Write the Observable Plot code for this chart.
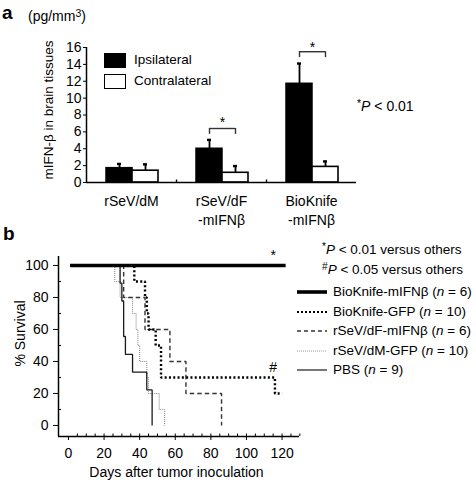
<!DOCTYPE html>
<html><head><meta charset="utf-8">
<script src="https://cdn.jsdelivr.net/npm/d3@7"></script>
<script src="https://cdn.jsdelivr.net/npm/@observablehq/plot@0.6"></script>
<style>
html,body{margin:0;padding:0;background:#fff;}
#wrap{position:relative;width:476px;height:482px;overflow:hidden;font-family:"Liberation Sans",Arial,Helvetica,sans-serif;color:#000;}
.abs{position:absolute;white-space:nowrap;line-height:1;}
#wrap svg.plot{position:absolute;left:0;}
sup{font-size:0.75em;vertical-align:0.42em;line-height:0;}
</style></head><body><div id="wrap"></div>
<script>
// ---------------- Panel a data ----------------
const groups = ["rSeV/dM", "rSeV/dF-mIFNβ", "BioKnife-mIFNβ"];
const groupLabels = ["rSeV/dM", "rSeV/dF\n-mIFNβ", "BioKnife\n-mIFNβ"];
const ipsiMean = [1.7, 4.0, 11.7];
const ipsiErr = [0.5, 1.05, 2.4];
const contraMean = [1.4, 1.15, 1.85];
const contraErr = [0.75, 0.8, 0.65];
const sigGroups = ["rSeV/dF-mIFNβ", "BioKnife-mIFNβ"];
const sigBracketTop = [6.4, 15.5];
const sigStarY = [7.15, 16.05];
const yTicksA = [0, 2, 4, 6, 8, 10, 12, 14, 16];
const legendA = ["Ipsilateral", "Contralateral"];

// ---------------- Panel b data ----------------
const seriesNames = ["BioKnife-mIFNβ", "BioKnife-GFP", "rSeV/dF-mIFNβ", "rSeV/dM-GFP", "PBS"];
const seriesN = [6, 10, 6, 10, 9];
const bkIfnDays = [1, 122];
const bkIfnSurv = [100, 100];
const bkGfpDays = [1, 37, 43, 44, 45, 49, 52, 116, 120];
const bkGfpSurv = [100, 90, 80, 70, 60, 50, 30, 20, 20];
const dfIfnDays = [1, 31, 43, 57, 66, 86];
const dfIfnSurv = [100, 80, 60, 40, 20, 0];
const dmGfpDays = [1, 26, 29, 36, 38, 39, 40, 44, 45, 51, 54];
const dmGfpSurv = [100, 90, 80, 70, 60, 50, 40, 30, 20, 10, 0];
const pbsDays = [1, 29, 30, 31, 32, 36, 44, 47];
const pbsSurv = [100, 88.9, 77.8, 55.6, 44.4, 33.3, 22.2, 0];
const xTicksB = [0, 20, 40, 60, 80, 100, 120];
const xMinorB = d3.range(5, 131, 5);
const yTicksB = [0, 20, 40, 60, 80, 100];
const yMinorB = d3.range(10, 101, 20);
const xDomB = [-5.6, 129.8];
const yDomB = [-6.9, 105.6];
const markStar = {day: 115, surv: 106.5, text: "*"};
const markHash = {day: 115, surv: 36, text: "#"};

const FONT = '"Liberation Sans", Arial, Helvetica, sans-serif';
const wrap = document.getElementById("wrap");

// ---------------- Panel a plot ----------------
const rowsA = groups.map((g, i) => ({group: g, ipsi: ipsiMean[i], ie: ipsiErr[i], contra: contraMean[i], ce: contraErr[i]}));
const sigA = sigGroups.map((g, i) => ({group: g, top: sigBracketTop[i], star: sigStarY[i]}));
const tickLabel = new Map(groups.map((g, i) => [g, groupLabels[i]]));

const plotA = Plot.plot({
  width: 476, height: 230,
  marginTop: 47, marginBottom: 48, marginLeft: 86, marginRight: 120,
  style: {fontFamily: FONT, fontSize: "14px", background: "transparent", color: "#000", overflow: "visible"},
  x: {domain: groups, padding: 0},
  y: {domain: [0, 16]},
  marks: [
    Plot.barY(rowsA, {x: "group", y: "ipsi", fill: "#000", stroke: "#000", strokeWidth: 1.5, insetLeft: 20, insetRight: 44}),
    Plot.barY(rowsA, {x: "group", y: "contra", fill: "#fff", stroke: "#000", strokeWidth: 1.6, insetLeft: 46, insetRight: 18}),
    Plot.ruleX(rowsA, {x: "group", y1: "ipsi", y2: d => d.ipsi + d.ie, dx: -12, stroke: "#000", strokeWidth: 1.8}),
    Plot.ruleX(rowsA, {x: "group", y1: "contra", y2: d => d.contra + d.ce, dx: 14, stroke: "#000", strokeWidth: 1.8}),
    Plot.tickY(rowsA, {x: "group", y: d => d.ipsi + d.ie, insetLeft: 31, insetRight: 55, stroke: "#000", strokeWidth: 2.4}),
    Plot.tickY(rowsA, {x: "group", y: d => d.contra + d.ce, insetLeft: 57, insetRight: 29, stroke: "#000", strokeWidth: 2.4}),
    Plot.tickY(sigA, {x: "group", y: "top", insetLeft: 33, insetRight: 31, stroke: "#333", strokeWidth: 1.4}),
    Plot.ruleX(sigA, {x: "group", y1: d => d.top - 0.7, y2: "top", dx: -12, stroke: "#333", strokeWidth: 1.4}),
    Plot.ruleX(sigA, {x: "group", y1: d => d.top - 0.7, y2: "top", dx: 14, stroke: "#333", strokeWidth: 1.4}),
    Plot.text(sigA, {x: "group", y: "star", text: () => "*", dx: 1, fontSize: 14}),
    Plot.ruleY([0], {stroke: "#000", strokeWidth: 1.5}),
    Plot.ruleX(groups.slice(0, 1), {x: d => d, y1: 0, y2: 16, dx: -45, stroke: "#000", strokeWidth: 1.5}),
    Plot.ruleX(groups.slice(1), {x: d => d, y1: 0, y2: 0.3, dx: -45, stroke: "#000", strokeWidth: 1.4}),
    Plot.axisY({ticks: yTicksA, tickSize: 3, tickPadding: 2, label: null, fontSize: 14}),
    Plot.axisX({tickSize: 0, tickPadding: 10, tickFormat: d => tickLabel.get(d), lineHeight: 1.35, label: null, fontSize: 14}),
    Plot.text(["mIFN-β in brain tissues"], {text: d => d, frameAnchor: "left", textAnchor: "middle", lineAnchor: "middle", rotate: -90, dx: -38, dy: -5, fontSize: 13.5})
  ]
});
plotA.classList.add("plot");
plotA.style.top = "0px";
wrap.append(plotA);

// ---------------- Panel b plot ----------------
const toRows = (days, surv) => days.map((d, i) => ({day: d, surv: surv[i]}));
const lineStyles = [
  {rows: toRows(dmGfpDays, dmGfpSurv), stroke: "#8a8a8a", strokeWidth: 1.1, strokeDasharray: "1,1"},
  {rows: toRows(pbsDays, pbsSurv), stroke: "#1a1a1a", strokeWidth: 1.3, strokeDasharray: null},
  {rows: toRows(dfIfnDays, dfIfnSurv), stroke: "#333", strokeWidth: 1.4, strokeDasharray: "4.5,3"},
  {rows: toRows(bkGfpDays, bkGfpSurv), stroke: "#000", strokeWidth: 2.4, strokeDasharray: "2,2.3"},
  {rows: toRows(bkIfnDays, bkIfnSurv), stroke: "#000", strokeWidth: 3.6, strokeDasharray: null}
];
const frameHB = 252 - 26 - 46;
const frameWB = 476 - 58 - 177;

const plotB = Plot.plot({
  width: 476, height: 252,
  marginTop: 26, marginBottom: 46, marginLeft: 58, marginRight: 177,
  style: {fontFamily: FONT, fontSize: "14px", background: "transparent", color: "#000", overflow: "visible"},
  x: {domain: xDomB},
  y: {domain: yDomB},
  marks: [
    Plot.ruleY([yDomB[0]], {stroke: "#000", strokeWidth: 1.5}),
    Plot.ruleX([xDomB[0]], {stroke: "#000", strokeWidth: 1.5}),
    Plot.ruleX(xMinorB, {x: d => d, insetTop: frameHB - 2.5, stroke: "#000", strokeWidth: 1}),
    Plot.ruleY(yMinorB, {y: d => d, insetRight: frameWB - 3, stroke: "#000", strokeWidth: 1}),
    Plot.axisX({ticks: xTicksB, tickSize: 4, tickPadding: 8, label: null, fontSize: 14}),
    Plot.axisY({ticks: yTicksB, tickSize: 5, tickPadding: 5, label: null, fontSize: 14}),
    ...lineStyles.map(s => Plot.line(s.rows, {x: "day", y: "surv", curve: "step-after", stroke: s.stroke, strokeWidth: s.strokeWidth, strokeDasharray: s.strokeDasharray, strokeLinecap: "butt", strokeLinejoin: "miter"})),
    Plot.text([markStar, markHash], {x: "day", y: "surv", text: "text", fontSize: 14}),
    Plot.text(["% Survival"], {text: d => d, frameAnchor: "left", textAnchor: "middle", lineAnchor: "middle", rotate: -90, dx: -38, dy: -13, fontSize: 14}),
    Plot.text(["Days after tumor inoculation"], {text: d => d, frameAnchor: "bottom", textAnchor: "middle", lineAnchor: "middle", dx: -2.5, dy: 36, fontSize: 14})
  ]
});
plotB.classList.add("plot");
plotB.style.top = "230px";
wrap.append(plotB);

// ---------------- HTML text & legends ----------------
function txt(html, left, centerY, size, extra) {
  const d = document.createElement("div");
  d.className = "abs";
  d.style.left = left + "px";
  d.style.top = (centerY - size * 0.52) + "px";
  d.style.fontSize = size + "px";
  if (extra) Object.assign(d.style, extra);
  d.innerHTML = html;
  wrap.append(d);
  return d;
}
txt("a", 2, 13, 19, {fontWeight: "bold"});
txt("(pg/mm<sup>3</sup>)", 28, 16, 14);
txt("b", 3, 234, 19, {fontWeight: "bold"});

// legend a
const sqFill = ["#000", "#fff"];
legendA.forEach((name, i) => {
  const cy = 60 + i * 21;
  const sq = document.createElement("div");
  sq.className = "abs";
  Object.assign(sq.style, {left: "104px", top: (cy - 7.5) + "px", width: "22px", height: "15px", background: sqFill[i], border: "1.5px solid #000", boxSizing: "border-box"});
  wrap.append(sq);
  txt(name, 134, cy, 13.5);
});
txt("<sup>*</sup><i>P</i> &lt; 0.01", 357, 106, 14);

// legend b
txt("<sup>*</sup><i>P</i> &lt; 0.01 versus others", 322, 250, 13.5);
txt("<sup>#</sup><i>P</i> &lt; 0.05 versus others", 322, 270, 13.5);
const legStyles = [
  {stroke: "#000", w: 3.6, dash: ""},
  {stroke: "#000", w: 2.2, dash: "2,2"},
  {stroke: "#333", w: 1.4, dash: "4,3"},
  {stroke: "#999", w: 1.1, dash: "1,1"},
  {stroke: "#777", w: 2, dash: ""}
];
const NS = "http://www.w3.org/2000/svg";
seriesNames.forEach((name, i) => {
  const cy = 292 + i * 19.6;
  const s = document.createElementNS(NS, "svg");
  s.setAttribute("width", 32); s.setAttribute("height", 8);
  s.style.position = "absolute"; s.style.left = "296px"; s.style.top = (cy - 4) + "px";
  const l = document.createElementNS(NS, "line");
  l.setAttribute("x1", 1); l.setAttribute("x2", 31); l.setAttribute("y1", 4); l.setAttribute("y2", 4);
  l.setAttribute("stroke", legStyles[i].stroke); l.setAttribute("stroke-width", legStyles[i].w);
  if (legStyles[i].dash) l.setAttribute("stroke-dasharray", legStyles[i].dash);
  s.append(l);
  wrap.append(s);
  txt(name + " (<i>n</i> = " + seriesN[i] + ")", 333, cy, 13.5);
});
</script></body></html>
